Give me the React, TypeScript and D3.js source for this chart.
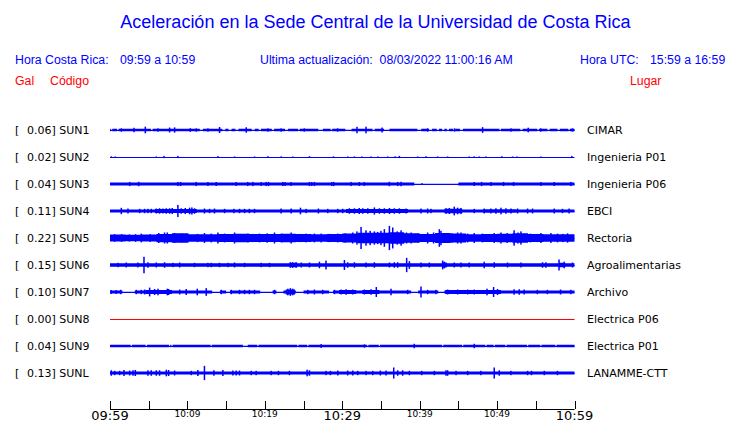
import React from 'react';
import * as d3 from 'd3';

const W = 740;
const H = 423;

const stations = ['SUN1', 'SUN2', 'SUN3', 'SUN4', 'SUN5', 'SUN6', 'SUN7', 'SUN8', 'SUN9', 'SUNL'];
const places = ['CIMAR', 'Ingenieria P01', 'Ingenieria P06', 'EBCI', 'Rectoria', 'Agroalimentarias', 'Archivo', 'Electrica P06', 'Electrica P01', 'LANAMME-CTT'];
const peakGal = [0.06, 0.02, 0.04, 0.11, 0.22, 0.15, 0.1, 0.0, 0.04, 0.13];
// background noise level (half-amplitude, Gal)
const noiseGal = [0.021, 0.002, 0.028, 0.028, 0.06, 0.03, 0.028, 0, 0.024, 0.028];
const traceColors = ['#0000ff', '#0000ff', '#0000ff', '#0000ff', '#0000ff', '#0000ff', '#0000ff', '#ff0000', '#0000ff', '#0000ff'];

// minutes after 09:59
const tickMinutes = [0, 5, 10, 15, 20, 25, 30, 35, 40, 45, 50, 55, 60];
const tickLabels = ['09:59', '', '10:09', '', '10:19', '', '10:29', '', '10:39', '', '10:49', '', '10:59'];
const majorTicks = ['09:59', '10:29', '10:59'];

// [start min, end min, level Gal]
const levelsSUN1: [number, number, number][] = [
  [0.1, 0.3, 0.005], [0.9, 1.1, 0.005], [5.3, 5.5, 0.005], [11.6, 12.0, 0.005], [14.5, 14.9, 0.005],
  [15.3, 15.7, 0.005], [16.2, 16.6, 0.005], [18.3, 18.7, 0.005], [19.2, 19.5, 0.005], [20.9, 21.2, 0.005],
  [22.6, 23.0, 0.005], [24.3, 24.5, 0.005], [26.9, 27.5, 0.005], [28.5, 28.7, 0.005], [30.4, 31.2, 0.005],
  [33.9, 34.2, 0.005], [35.4, 36.1, 0.005], [39.7, 40.2, 0.005], [41.2, 41.6, 0.005], [42.2, 42.5, 0.005],
  [42.9, 43.2, 0.005], [43.5, 43.8, 0.005], [44.3, 44.6, 0.005], [45.2, 45.6, 0.005], [50.3, 50.5, 0.005],
  [53.0, 53.3, 0.005], [55.2, 55.4, 0.005], [56.5, 56.8, 0.005], [57.8, 58.1, 0.005], [59.2, 59.4, 0.005],
];
const levelsSUN3: [number, number, number][] = [[39.3, 45.0, 0.004]];
const levelsSUN4: [number, number, number][] = [[5.8, 11.2, 0.036], [30.5, 38.5, 0.036], [43.2, 45.5, 0.04], [48.2, 52.5, 0.033]];
const envSUN5 = [0.062, 0.058, 0.062, 0.075, 0.085, 0.068, 0.068, 0.072, 0.076, 0.072, 0.072, 0.076, 0.072, 0.068, 0.072,
  0.08, 0.095, 0.095, 0.105, 0.085, 0.072, 0.09, 0.08, 0.068, 0.072, 0.076, 0.085, 0.072, 0.068, 0.068];
const levelsSUN6: [number, number, number][] = [[23.2, 24.2, 0.04], [42.9, 43.5, 0.045], [58.0, 58.8, 0.04]];
const levelsSUN7: [number, number, number][] = [
  [4.6, 8.0, 0.035], [22.7, 23.9, 0.045], [29.6, 31.8, 0.035], [32.6, 34.8, 0.035], [43.3, 50.5, 0.035],
  [1.6, 3.2, 0.006], [13.2, 14.2, 0.006], [15.0, 15.5, 0.006], [19.4, 21.0, 0.006], [21.5, 22.4, 0.006],
  [24.0, 25.0, 0.006], [28.3, 28.8, 0.006], [38.9, 39.8, 0.006], [42.4, 43.2, 0.006],
];
const levelsSUN9: [number, number, number][] = [
  [2.67, 2.83, 0.005], [4.6, 4.78, 0.005], [7.62, 7.78, 0.005], [7.92, 8.08, 0.005], [13.0, 13.15, 0.005],
  [17.16, 17.8, 0.005], [19.02, 19.18, 0.005], [24.18, 24.34, 0.005], [25.47, 25.63, 0.005], [33.22, 33.38, 0.005],
  [34.72, 34.88, 0.005], [42.89, 43.05, 0.005], [45.47, 45.63, 0.005], [48.48, 48.64, 0.005], [49.55, 49.71, 0.005],
  [51.06, 51.22, 0.005], [53.86, 54.02, 0.005], [55.58, 55.74, 0.005], [57.52, 57.68, 0.005],
];

// [minute, amplitude Gal]
const spikesSUN1: [number, number][] = [
  [1.46, 0.03], [3.1, 0.04], [4.56, 0.06], [6.2, 0.03], [7.7, 0.045], [8.35, 0.048], [10.37, 0.033], [11.14, 0.03],
  [12.65, 0.03], [14.15, 0.055], [17.6, 0.05], [20.4, 0.03], [22.1, 0.03], [25.1, 0.03], [29.4, 0.03], [31.9, 0.058],
  [33.07, 0.06], [35.14, 0.045], [41.03, 0.03], [44.5, 0.03], [48.13, 0.052], [51.8, 0.03], [54.02, 0.042],
  [55.65, 0.03], [59.74, 0.03],
];
const spikesSUN2: [number, number][] = [
  [0.17, 0.012], [0.69, 0.01], [5.98, 0.01], [6.97, 0.02], [8.77, 0.02], [13.94, 0.017], [16.09, 0.01], [18.67, 0.01],
  [20.39, 0.015], [22.11, 0.012], [23.61, 0.01], [25.76, 0.015], [28.86, 0.012], [30.71, 0.01], [31.57, 0.01],
  [32.52, 0.01], [33.72, 0.01], [34.58, 0.01], [35.87, 0.01], [36.82, 0.012], [37.38, 0.02], [39.74, 0.01],
  [40.82, 0.015], [42.32, 0.01], [43.61, 0.01], [46.41, 0.01], [47.05, 0.012], [47.7, 0.01], [48.56, 0.01],
  [50.62, 0.015], [52.0, 0.01], [52.56, 0.01], [55.66, 0.01], [59.66, 0.02],
];
const spikesSUN3: [number, number][] = [
  [2.54, 0.038], [3.7, 0.04], [8.77, 0.038], [9.12, 0.038], [11.14, 0.038], [12.65, 0.036], [13.72, 0.036],
  [16.3, 0.036], [17.8, 0.038], [18.45, 0.038], [19.53, 0.036], [20.17, 0.038], [20.47, 0.038], [22.32, 0.038],
  [22.62, 0.036], [23.4, 0.036], [25.76, 0.038], [26.06, 0.036], [26.4, 0.038], [28.65, 0.036], [28.9, 0.038],
  [31.14, 0.038], [32.2, 0.036], [32.86, 0.036], [36.09, 0.04], [37.16, 0.038], [37.6, 0.04], [40.3, 0.015],
  [47.05, 0.036], [48.0, 0.038], [49.2, 0.036], [50.84, 0.038], [52.13, 0.036], [55.66, 0.036], [57.38, 0.036],
  [59.53, 0.038],
];
const spikesSUN4: [number, number][] = [
  [1.46, 0.058], [2.32, 0.045], [3.83, 0.04], [4.47, 0.04], [4.9, 0.04], [5.33, 0.04], [5.98, 0.045], [6.4, 0.05],
  [6.84, 0.045], [7.27, 0.05], [7.7, 0.05], [8.04, 0.055], [8.77, 0.11], [9.2, 0.05], [9.72, 0.055], [10.28, 0.06],
  [10.58, 0.065], [10.92, 0.05], [12.2, 0.045], [12.86, 0.04], [13.5, 0.045], [14.8, 0.04], [16.0, 0.04],
  [16.73, 0.04], [17.38, 0.04], [18.0, 0.04], [18.67, 0.04], [22.1, 0.045], [23.4, 0.045], [24.6, 0.06],
  [25.33, 0.04], [26.92, 0.045], [28.13, 0.04], [29.42, 0.04], [30.06, 0.04], [30.92, 0.05], [31.57, 0.05],
  [32.2, 0.055], [32.65, 0.05], [33.3, 0.05], [34.15, 0.065], [34.8, 0.05], [35.44, 0.05], [36.1, 0.055],
  [36.73, 0.05], [37.38, 0.05], [38.24, 0.045], [40.17, 0.045], [41.03, 0.045], [41.46, 0.04], [43.4, 0.05],
  [43.83, 0.055], [44.47, 0.08], [44.9, 0.06], [45.33, 0.055], [47.05, 0.04], [48.34, 0.045], [49.2, 0.045],
  [49.85, 0.05], [50.5, 0.06], [51.14, 0.05], [51.8, 0.045], [52.65, 0.045], [53.94, 0.045], [54.58, 0.045],
  [57.38, 0.045], [58.45, 0.04], [59.3, 0.045],
];
const spikesSUN5: [number, number][] = [
  [0.6, 0.07], [1.5, 0.07], [2.5, 0.065], [3.3, 0.07], [4.04, 0.08], [5.2, 0.07], [6.3, 0.09], [7.05, 0.1],
  [7.4, 0.1], [8.34, 0.09], [9.3, 0.08], [10.06, 0.085], [11.3, 0.075], [12.2, 0.09], [13.07, 0.08], [13.94, 0.1],
  [14.8, 0.08], [15.5, 0.07], [16.09, 0.1], [17.8, 0.08], [18.4, 0.075], [19.3, 0.08], [20.3, 0.085], [21.25, 0.1],
  [22.2, 0.08], [23.4, 0.1], [24.5, 0.075], [25.3, 0.08], [26.4, 0.08], [27.27, 0.08], [28.3, 0.075], [29.42, 0.08],
  [30.4, 0.085], [31.35, 0.1], [31.9, 0.12], [32.43, 0.2], [33.07, 0.14], [33.6, 0.13], [34.15, 0.12], [34.58, 0.11],
  [35.0, 0.13], [35.44, 0.16], [36.09, 0.22], [36.52, 0.19], [37.1, 0.12], [37.6, 0.14], [38.3, 0.1], [38.9, 0.1],
  [39.8, 0.08], [41.03, 0.1], [41.8, 0.1], [42.54, 0.16], [42.75, 0.13], [43.5, 0.09], [44.2, 0.085], [44.9, 0.1],
  [45.33, 0.1], [46.2, 0.08], [47.05, 0.09], [48.1, 0.08], [49.63, 0.09], [50.5, 0.1], [51.3, 0.09], [52.2, 0.14],
  [52.7, 0.1], [53.08, 0.12], [54.3, 0.08], [55.66, 0.09], [56.95, 0.09], [57.8, 0.08], [58.5, 0.075], [59.1, 0.085],
];
const spikesSUN6: [number, number][] = [
  [1.03, 0.04], [2.1, 0.045], [3.6, 0.045], [4.39, 0.15], [4.9, 0.05], [5.98, 0.045], [7.05, 0.05], [8.13, 0.04],
  [9.0, 0.045], [10.92, 0.04], [12.65, 0.04], [13.07, 0.04], [14.15, 0.04], [15.23, 0.04], [16.09, 0.045],
  [17.38, 0.04], [19.53, 0.04], [20.6, 0.04], [23.3, 0.05], [23.6, 0.05], [24.04, 0.05], [24.7, 0.045],
  [25.76, 0.045], [27.05, 0.06], [27.9, 0.08], [30.28, 0.09], [30.7, 0.05], [31.57, 0.05], [33.07, 0.045],
  [34.15, 0.05], [36.09, 0.045], [36.73, 0.05], [37.16, 0.05], [38.32, 0.13], [38.67, 0.07], [40.17, 0.045],
  [41.25, 0.045], [42.97, 0.08], [43.18, 0.06], [44.47, 0.045], [45.33, 0.045], [46.4, 0.045], [48.34, 0.06],
  [49.63, 0.05], [51.35, 0.045], [53.08, 0.045], [55.87, 0.05], [56.3, 0.05], [58.0, 0.1], [58.67, 0.06], [59.74, 0.045],
];
const spikesSUN7: [number, number][] = [
  [0.17, 0.035], [0.8, 0.035], [1.38, 0.04], [3.4, 0.04], [4.04, 0.04], [4.47, 0.045], [5.12, 0.08], [5.76, 0.055],
  [6.2, 0.06], [7.4, 0.06], [7.57, 0.055], [9.0, 0.045], [9.85, 0.055], [11.27, 0.06], [12.43, 0.07], [14.37, 0.04],
  [15.66, 0.04], [16.73, 0.04], [17.38, 0.04], [18.0, 0.04], [18.67, 0.04], [21.25, 0.04], [22.97, 0.06],
  [23.3, 0.07], [23.6, 0.06], [25.55, 0.04], [26.4, 0.045], [27.48, 0.04], [29.0, 0.04], [29.85, 0.045],
  [30.5, 0.05], [31.35, 0.045], [32.86, 0.045], [33.72, 0.05], [34.4, 0.09], [36.3, 0.06], [38.45, 0.04],
  [40.17, 0.1], [41.03, 0.04], [42.1, 0.04], [43.61, 0.045], [44.9, 0.045], [46.2, 0.045], [47.05, 0.045],
  [48.7, 0.06], [49.55, 0.09], [50.06, 0.055], [52.2, 0.05], [52.86, 0.05], [53.5, 0.045], [55.2, 0.04],
  [56.5, 0.04], [58.2, 0.045], [59.53, 0.04],
];
const spikesSUN9: [number, number][] = [[27.27, 0.035], [32.86, 0.03], [39.3, 0.04], [47.05, 0.04]];
const spikesSUNL: [number, number][] = [
  [0.17, 0.05], [0.6, 0.04], [1.25, 0.04], [1.8, 0.055], [2.54, 0.045], [2.97, 0.05], [3.27, 0.055], [4.9, 0.05],
  [5.33, 0.05], [5.98, 0.05], [6.4, 0.05], [7.27, 0.06], [7.57, 0.055], [8.34, 0.045], [10.5, 0.04], [11.35, 0.055],
  [12.2, 0.13], [13.42, 0.05], [14.58, 0.055], [15.87, 0.045], [16.3, 0.045], [16.73, 0.045], [18.24, 0.04],
  [18.88, 0.04], [20.82, 0.04], [21.76, 0.04], [23.18, 0.04], [25.46, 0.06], [25.76, 0.05], [27.9, 0.04],
  [28.47, 0.04], [29.42, 0.045], [30.7, 0.045], [31.35, 0.045], [32.0, 0.04], [33.07, 0.04], [33.94, 0.04],
  [34.92, 0.045], [35.66, 0.045], [36.65, 0.1], [37.16, 0.05], [37.8, 0.05], [38.67, 0.04], [40.26, 0.04],
  [41.9, 0.04], [43.4, 0.05], [43.61, 0.05], [44.7, 0.04], [46.2, 0.04], [47.9, 0.04], [49.63, 0.1], [50.28, 0.05],
  [51.78, 0.04], [53.94, 0.04], [54.45, 0.04], [56.1, 0.04], [57.8, 0.04],
];

const levelsByTrace: [number, number, number][][] = [
  levelsSUN1, [], levelsSUN3, levelsSUN4,
  envSUN5.map((v, i) => [i * 2, i * 2 + 2, v] as [number, number, number]),
  levelsSUN6, levelsSUN7, [], levelsSUN9, [],
];
const spikesByTrace: [number, number][][] = [
  spikesSUN1, spikesSUN2, spikesSUN3, spikesSUN4, spikesSUN5, spikesSUN6, spikesSUN7, [], spikesSUN9, spikesSUNL,
];

const headerFont = '"Liberation Sans", Arial, Helvetica, sans-serif';
const labelFont = '"DejaVu Sans", sans-serif';
const NB = '\u00a0';

function profile(base: number, levels: [number, number, number][]) {
  const bps = new Set<number>([0, 60]);
  levels.forEach(([a, b]) => { bps.add(a); bps.add(b); });
  const sorted = Array.from(bps).sort((a, b) => a - b);
  const pts: { m: number; v: number }[] = [];
  for (let i = 0; i < sorted.length - 1; i++) {
    const a = sorted[i], b = sorted[i + 1];
    const mid = (a + b) / 2;
    let v = base;
    levels.forEach(([s, e, l]) => { if (mid >= s && mid <= e) v = l; });
    pts.push({ m: a, v }, { m: b, v });
  }
  return pts;
}

export default function App() {
  const x = d3.scaleLinear().domain([0, 60]).range([110, 574.5]);
  const yRow = d3.scalePoint<string>().domain(stations).range([130, 373]);
  const amp = d3.scaleLinear().domain([-0.25, 0.25]).range([13.75, -13.75]);
  const axisY = 409;

  return (
    <svg width={W} height={H} style={{ position: 'absolute', left: 0, top: 0, background: '#fff' }}>
      <rect width={W} height={H} fill="#fff" />
      <text x={375.5} y={28} textAnchor="middle" fontFamily={headerFont} fontSize={18} fill="#0000ff">
        Aceleración en la Sede Central de la Universidad de Costa Rica
      </text>
      <g fontFamily={headerFont} fontSize={12.3} fill="#0000ff">
        <text x={15} y={64}>Hora Costa Rica:</text>
        <text x={120} y={64}>09:59 a 10:59</text>
        <text x={260} y={64}>{`Ultima actualización:${NB} 08/03/2022 11:00:16 AM`}</text>
        <text x={580} y={64}>Hora UTC:</text>
        <text x={650} y={64}>15:59 a 16:59</text>
      </g>
      <g fontFamily={headerFont} fontSize={12.3} fill="#ff0000">
        <text x={15} y={85}>Gal</text>
        <text x={50} y={85}>Código</text>
        <text x={630} y={85}>Lugar</text>
      </g>

      {stations.map((s, i) => {
        const cy = yRow(s)!;
        const color = traceColors[i];
        const pts = profile(noiseGal[i], levelsByTrace[i]);
        const area = d3.area<{ m: number; v: number }>()
          .x((d) => x(d.m))
          .y0((d) => cy + amp(-d.v))
          .y1((d) => cy + amp(d.v));
        return (
          <g key={s}>
            <g fontFamily={labelFont} fontSize={11} fill="#000">
              <text x={15} y={cy + 4}>[</text>
              <text x={27} y={cy + 4}>{`${peakGal[i].toFixed(2)}] ${s}`}</text>
            </g>
            <line x1={x(0)} x2={x(60)} y1={cy + 0.5} y2={cy + 0.5} stroke={color} strokeWidth={1} />
            {noiseGal[i] > 0 && <path d={area(pts) ?? ''} fill={color} />}
            {spikesByTrace[i].map(([m, a], j) => (
              <rect key={j} x={x(m) - 0.75} width={1.5} y={cy + amp(a)} height={amp(-a) - amp(a)} fill={color} />
            ))}
            <text x={587} y={cy + 4} fontFamily={labelFont} fontSize={11} fill="#000">{places[i]}</text>
          </g>
        );
      })}

      <g>
        <line x1={x(0)} x2={x(60)} y1={axisY + 0.5} y2={axisY + 0.5} stroke="#000" strokeWidth={1} />
        {tickMinutes.map((m, i) => {
          const major = majorTicks.includes(tickLabels[i]);
          return (
            <g key={m}>
              <line x1={Math.round(x(m)) + 0.5} x2={Math.round(x(m)) + 0.5} y1={axisY - 8} y2={axisY} stroke="#000" strokeWidth={1} />
              {tickLabels[i] && (
                <text x={x(m)} y={major ? 420 : 417} textAnchor="middle" fontFamily={labelFont} fontSize={major ? 13 : 9} fill="#000">
                  {tickLabels[i]}
                </text>
              )}
            </g>
          );
        })}
      </g>
    </svg>
  );
}
